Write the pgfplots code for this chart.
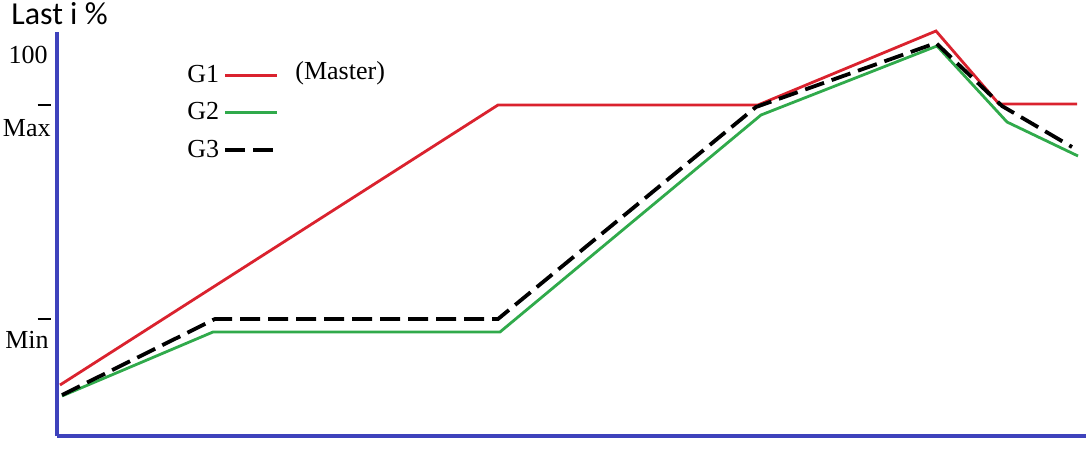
\documentclass[border=0pt]{standalone}
\usepackage{pgfplots}
\pgfplotsset{compat=1.18}
\usepackage{fontspec}
\setmainfont{Liberation Serif}
\newfontfamily\calibri{Carlito}
\definecolor{axisblue}{RGB}{62,66,188}
\definecolor{gred}{RGB}{218,34,46}
\definecolor{ggreen}{RGB}{48,170,75}
\begin{document}
\begin{tikzpicture}
\begin{axis}[
  scale only axis,
  width=514.5pt, height=202pt,
  xmin=57, xmax=1086, ymin=14, ymax=418,
  axis x line=bottom, axis y line=left,
  axis line style={-, line width=1.7pt, draw=axisblue},
  xtick=\empty, ytick=\empty,
  clip=false,
  legend style={draw=none, fill=none, at={(axis cs:177,393)}, anchor=north west,
    font=\fontsize{13pt}{14pt}\selectfont, row sep=4.5pt,
    nodes={inner sep=2pt}},
  legend plot pos=right,
  legend cell align=left,
  legend image code/.code={\draw[#1] (0pt,0pt) -- (26pt,0pt);},
]
\addplot[gred, line width=1.4pt] coordinates {(60,65) (498,345) (758,345) (936,419) (999,346) (1077,346)};
\addlegendentry{G1}
\addplot[ggreen, line width=1.4pt] coordinates {(62,54) (213,118) (500,118) (761,335) (937,404) (1007,328) (1078,294)};
\addlegendentry{G2}
\addplot[black, line width=1.9pt, dash pattern=on 10pt off 4pt] coordinates {(62,55) (215,131) (498,131) (756,343) (936,407) (1002,344) (1072,303)};
\addlegendentry{G3}
\path (axis cs:0,0) rectangle (axis cs:1092,450);
\node[anchor=base west, inner sep=0pt, font=\calibri\fontsize{16pt}{18pt}\selectfont] at (axis cs:11,425) {Last i \%};
\node[anchor=east, inner sep=0pt, font=\fontsize{13pt}{14pt}\selectfont] at (axis cs:48,395) {100};
\node[anchor=east, inner sep=0pt] at (axis cs:51,345) {\rule{6.5pt}{0.7pt}};
\node[anchor=east, inner sep=0pt, font=\fontsize{13pt}{14pt}\selectfont] at (axis cs:51,322) {Max};
\node[anchor=east, inner sep=0pt] at (axis cs:51,131) {\rule{6.5pt}{0.7pt}};
\node[anchor=east, inner sep=0pt, font=\fontsize{13pt}{14pt}\selectfont] at (axis cs:49,110) {Min};
\node[anchor=west, inner sep=0pt, font=\fontsize{13pt}{14pt}\selectfont] at (axis cs:295,377) {(Master)};
\end{axis}
\end{tikzpicture}
\end{document}
